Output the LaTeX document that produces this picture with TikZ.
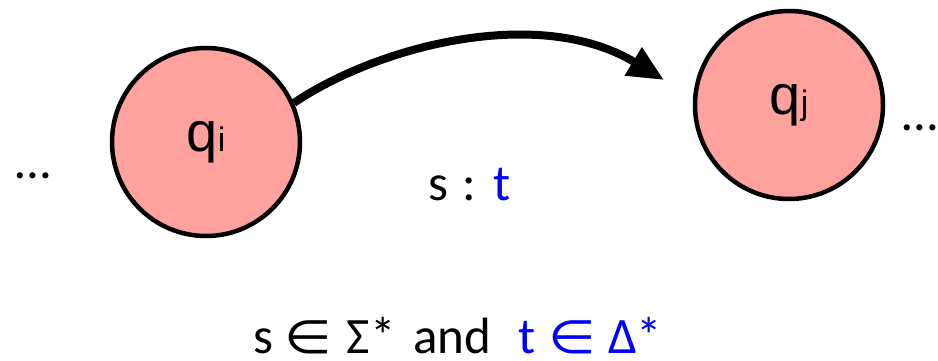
\documentclass[tikz,border=0pt]{standalone}
\usepackage{fontspec}
\setmainfont{Carlito}
\newfontfamily\arialfont{Liberation Sans}
\newfontfamily\symfont{DejaVu Sans}
\usetikzlibrary{arrows.meta}
\definecolor{statepink}{HTML}{FFA19D}
\definecolor{outblue}{RGB}{0,0,255}
\newcommand{\elem}{\scalebox{1.3}[1.1]{\symfont\fontsize{42}{50}\selectfont ∈}}

\begin{document}
\begin{tikzpicture}[x=1pt,y=-1pt,
  state/.style={circle,draw,line width=4.5pt,fill=statepink,minimum size=188pt,inner sep=0pt,
    font=\arialfont\fontsize{56}{60}\selectfont},
  big/.style={font=\fontsize{51}{56}\selectfont,inner sep=0pt,anchor=base west}]
  \useasboundingbox (0,0) rectangle (938,361);
  \node[state] (qi) at (206,142) {\raisebox{-13pt}{q{\fontsize{34}{40}\selectfont i}}};
  \node[state] (qj) at (789,105) {\raisebox{-13pt}{q{\fontsize{34}{40}\selectfont j}}};
  \node[big,anchor=base] (ldots) at (33,178) {…};
  \node[big,anchor=base] (rdots) at (920,130) {…};
  \coordinate (qjin) at (664,80);
  \draw[line width=8pt,-{Triangle[length=36pt,width=31pt]}]
    (qi.24) .. controls (380,45) and (540,5) .. (qjin);
  \node[big] (lbl) at (428,200) {s\hspace{14pt}:\hspace{18pt}\textcolor{outblue}{t}};
  \node[big] (rule) at (253,353) {s\hspace{11pt}\elem\hspace{15pt}Σ*\hspace{18pt}and\hspace{27pt}%
    \textcolor{outblue}{t\hspace{13pt}\elem\hspace{12pt}Δ*}};
\end{tikzpicture}
\end{document}
